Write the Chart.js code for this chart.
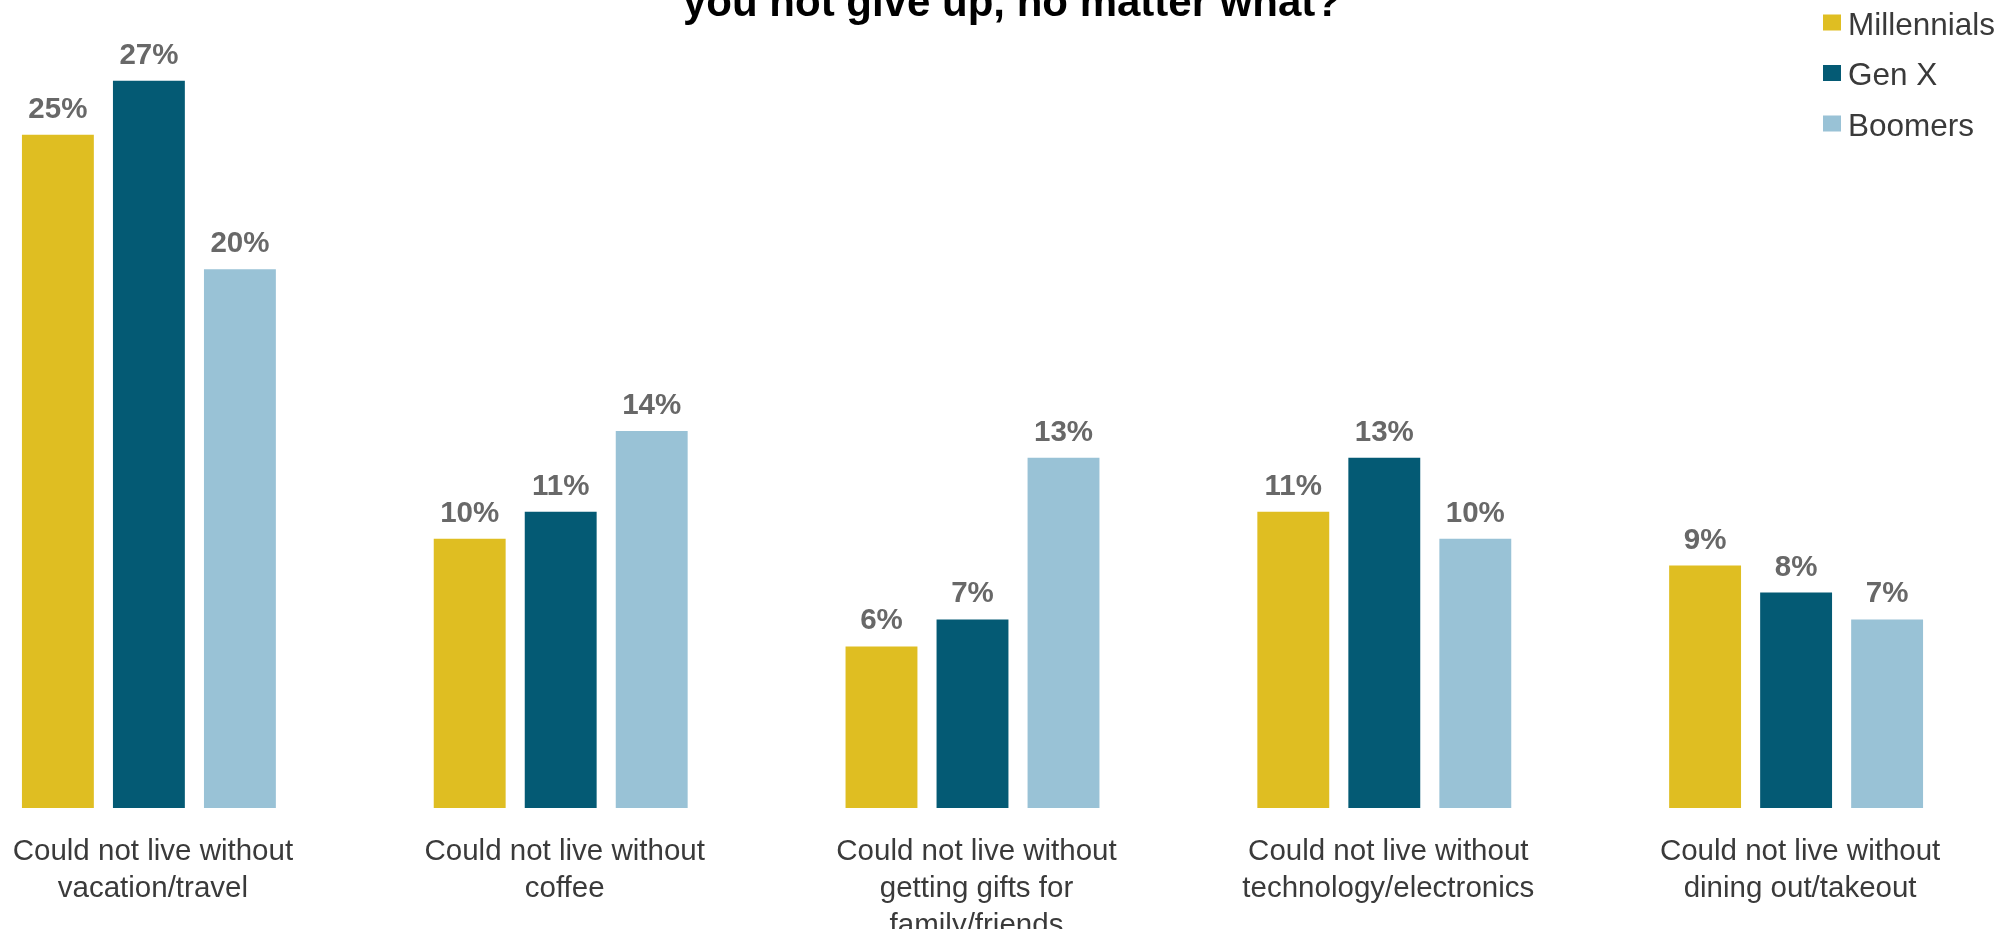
<!DOCTYPE html>
<html>
<head>
<meta charset="utf-8">
<script src="https://cdn.jsdelivr.net/npm/chart.js@4.4.1/dist/chart.umd.min.js"></script>
<style>
  html, body { margin: 0; padding: 0; background: #fff; overflow: hidden; }
  #frame { position: relative; width: 2012px; height: 929px; overflow: hidden; }
  /* the plot runs a little past the left edge, so the canvas is shifted */
  #wrap { position: absolute; left: -57px; top: 0; width: 2069px; height: 929px; }
</style>
</head>
<body>
<div id="frame"><div id="wrap"><canvas id="genChart"></canvas></div></div>
<script>
const categories = [
  ['Could not live without', 'vacation/travel'],
  ['Could not live without', 'coffee'],
  ['Could not live without', 'getting gifts for', 'family/friends'],
  ['Could not live without', 'technology/electronics'],
  ['Could not live without', 'dining out/takeout']
];
const millennials = [25, 10, 6, 11, 9];
const genX = [27, 11, 7, 13, 8];
const boomers = [20, 14, 13, 10, 7];

const titleText = 'you not give up, no matter what?';
const FONT = '"Liberation Sans", Arial, sans-serif';

// percentage above each bar
const valueLabels = {
  id: 'valueLabels',
  afterDatasetsDraw(chart) {
    const ctx = chart.ctx;
    ctx.save();
    ctx.font = 'bold 29.5px ' + FONT;
    ctx.fillStyle = '#686868';
    ctx.textAlign = 'center';
    ctx.textBaseline = 'alphabetic';
    chart.data.datasets.forEach((ds, i) => {
      chart.getDatasetMeta(i).data.forEach((bar, j) => {
        ctx.fillText(ds.data[j] + '%', bar.x, bar.y - 17);
      });
    });
    ctx.restore();
  }
};

// stacked legend in the top right corner + title line
const sideLegend = {
  id: 'sideLegend',
  afterDraw(chart) {
    const ctx = chart.ctx;
    ctx.save();
    ctx.font = 'bold 42px ' + FONT;
    ctx.fillStyle = '#000';
    ctx.textAlign = 'center';
    ctx.textBaseline = 'alphabetic';
    ctx.fillText(titleText, 1069, 15.5);

    const x = 1880, base0 = 34.5, step = 50.5;
    ctx.font = '31.5px ' + FONT;
    ctx.textAlign = 'left';
    chart.data.datasets.forEach((ds, i) => {
      const base = base0 + i * step;
      ctx.fillStyle = ds.backgroundColor;
      ctx.fillRect(x, base - 20, 18, 16);
      ctx.fillStyle = '#3a3a3a';
      ctx.fillText(ds.label, x + 25, base);
    });
    ctx.restore();
  }
};

new Chart(document.getElementById('genChart').getContext('2d'), {
  type: 'bar',
  data: {
    labels: categories,
    datasets: [
      { label: 'Millennials', data: millennials, backgroundColor: '#DFBE22' },
      { label: 'Gen X', data: genX, backgroundColor: '#045A74' },
      { label: 'Boomers', data: boomers, backgroundColor: '#99C2D6' }
    ]
  },
  options: {
    responsive: true,
    maintainAspectRatio: false,
    animation: false,
    datasets: { bar: { categoryPercentage: 0.663, barPercentage: 0.79 } },
    layout: { padding: { left: 0, right: 10, top: 0, bottom: 0 } },
    plugins: {
      legend: { display: false },
      title: { display: false },
      tooltip: { enabled: false }
    },
    scales: {
      x: {
        grid: { display: false, drawTicks: false },
        border: { display: false },
        ticks: {
          color: '#3a3a3a',
          font: { family: FONT, size: 29.5, lineHeight: 1.24 },
          padding: 26,
          labelOffset: 4,
          maxRotation: 0,
          autoSkip: false
        },
        afterFit(scale) { scale.height = 121; }
      },
      y: { display: false, min: 0, max: 30 }
    }
  },
  plugins: [valueLabels, sideLegend]
});
</script>
</body>
</html>
